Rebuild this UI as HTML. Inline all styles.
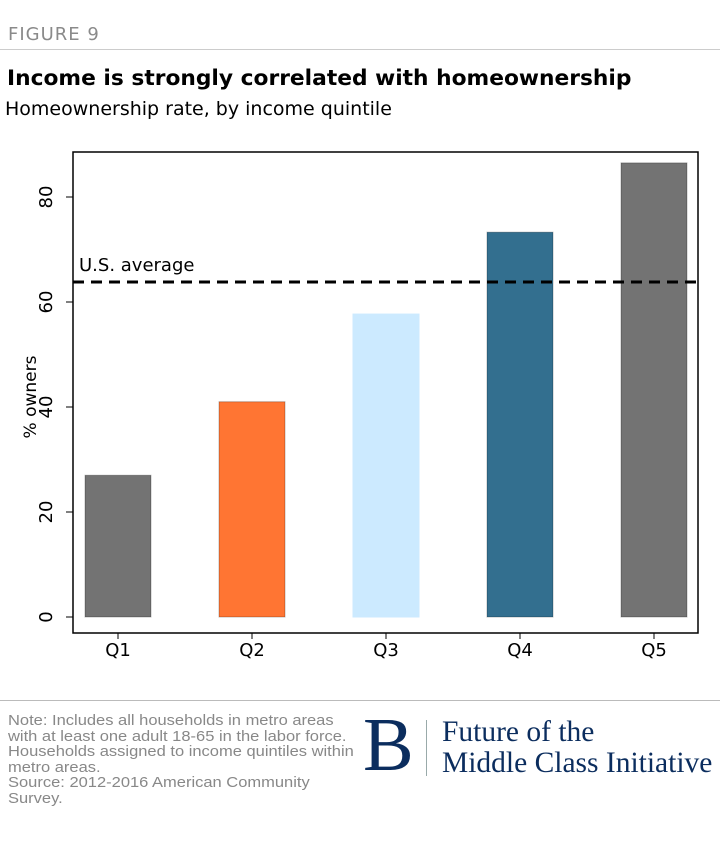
<!DOCTYPE html>
<html><head><meta charset="utf-8"><style>
body{margin:0;width:720px;height:842px;background:#fff;font-family:"DejaVu Sans","Liberation Sans",sans-serif;position:relative;overflow:hidden}
.abs{position:absolute}
</style></head><body>
<div class="abs" style="left:8px;top:24px;font-size:18px;color:#8a8a8a;letter-spacing:1px">FIGURE 9</div>
<div class="abs" style="left:0;top:49px;width:720px;height:1px;background:#ccc"></div>
<div class="abs" style="left:7px;top:66px;font-size:21.75px;font-weight:bold;color:#000">Income is strongly correlated with homeownership</div>
<div class="abs" style="left:5px;top:98px;font-size:19px;color:#000">Homeownership rate, by income quintile</div>
<svg class="abs" style="left:0;top:0" width="720" height="700">
<g id="g"></g>
</svg>
<div class="abs" style="left:0;top:700px;width:720px;height:1px;background:#bbb"></div>
<div class="abs" style="left:8px;top:713px;font-family:'Liberation Sans',sans-serif;font-size:15px;line-height:15.6px;color:#888;white-space:nowrap;transform:scaleX(1.1);transform-origin:0 0">Note: Includes all households in metro areas<br>with at least one adult 18-65 in the labor force.<br>Households assigned to income quintiles within<br>metro areas.<br>Source: 2012-2016 American Community<br>Survey.</div>
<div class="abs" style="left:363px;top:700px;font-family:'Liberation Serif',serif;font-size:76px;line-height:90px;color:#0b2d5e">B</div>
<div class="abs" style="left:426px;top:720px;width:1px;height:56px;background:#9aa"></div>
<div class="abs" style="left:442px;top:717px;font-family:'Liberation Serif',serif;font-size:29.5px;line-height:31px;color:#0b2d5e;white-space:nowrap">Future of the<br>Middle Class Initiative</div>
<script>
const categories=["Q1","Q2","Q3","Q4","Q5"];
const values=[27,41,57.7,73.3,86.5];
const colors=["#737373","#ff7533","#cceaff","#336f8f","#737373"];
const yTicks=[0,20,40,60,80];
const avgValue=63.8;
const ns="http://www.w3.org/2000/svg",g=document.getElementById("g");
const X0=73,X1=698,Y0=152,Y1=633;
const y=v=>617-v*5.25;
const x=i=>118+i*134;
function mk(t,a){const e=document.createElementNS(ns,t);for(const k in a)e.setAttribute(k,a[k]);g.appendChild(e);return e;}
let f=mk("rect",{x:X0,y:Y0,width:X1-X0,height:Y1-Y0,fill:"none",stroke:"#000","stroke-width":1.5});


yTicks.forEach(t=>{
 let l=mk("line",{x1:X0-7,x2:X0,y1:y(t),y2:y(t),stroke:"#000"});
 
 
 let tx=mk("text",{x:0,y:0,transform:`translate(52,${y(t)}) rotate(-90)`,"text-anchor":"middle","font-size":18,fill:"#000","font-family":"DejaVu Sans, sans-serif"});
 tx.textContent=t;
 
 
});
let yt=mk("text",{x:0,y:0,transform:"translate(36,397) rotate(-90)","text-anchor":"middle","font-size":17,"font-family":"DejaVu Sans, sans-serif"});
yt.textContent="% owners";


categories.forEach((c,i)=>{
 let r=mk("rect",{x:x(i)-33,y:y(values[i]),width:66,height:y(0)-y(values[i]),fill:colors[i],stroke:i==2?"#cceaff":"rgba(0,0,0,0.25)","stroke-width":1});
 
 
 let l=mk("line",{x1:x(i),x2:x(i),y1:Y1,y2:Y1+6,stroke:"#000"});
 
 
 let t=mk("text",{x:x(i),y:656,"text-anchor":"middle","font-size":18,"font-family":"DejaVu Sans, sans-serif"});
 t.textContent=c;
 
 
});
let al=mk("line",{x1:X0,x2:X1,y1:y(avgValue),y2:y(avgValue),stroke:"#000","stroke-width":3,"stroke-dasharray":"11 7"});


let at=mk("text",{x:79,y:y(avgValue)-11,"font-size":18,"font-family":"DejaVu Sans, sans-serif"});
at.textContent="U.S. average";


</script>
</body></html>
